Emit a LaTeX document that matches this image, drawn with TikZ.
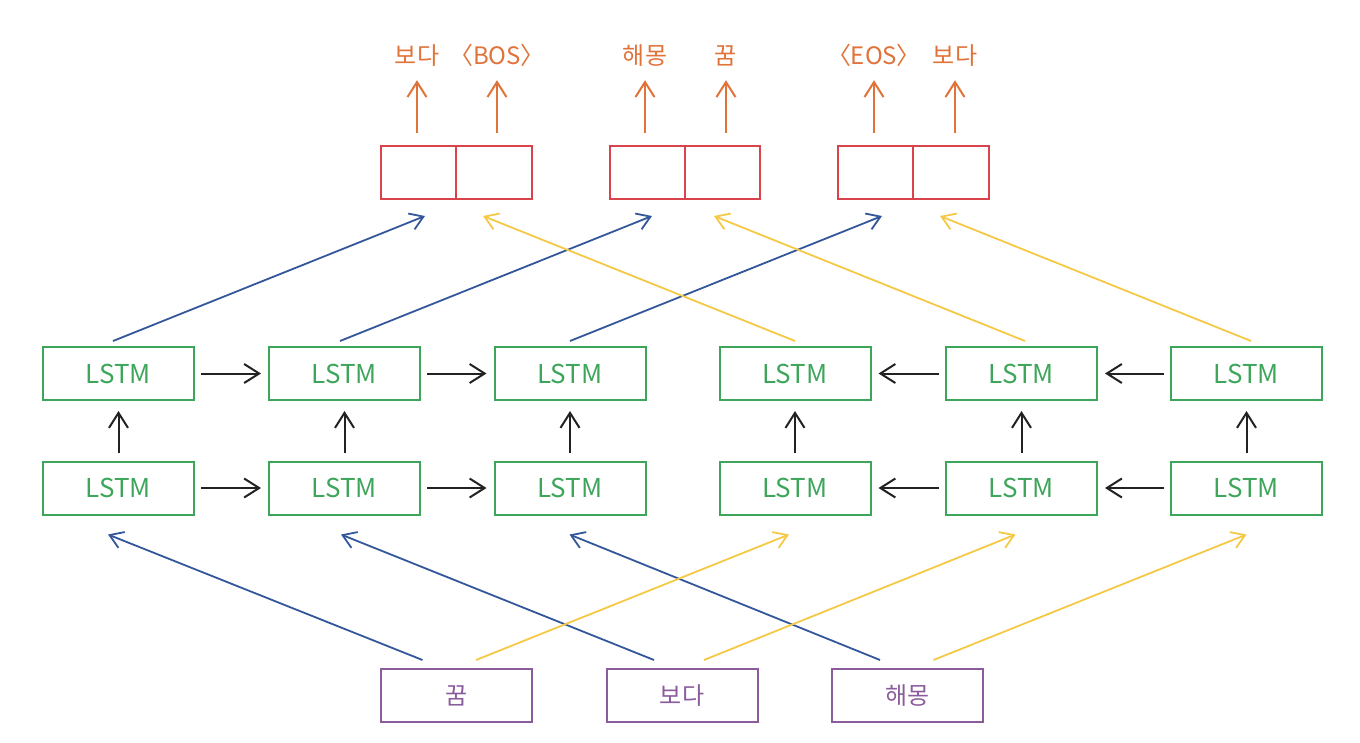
\documentclass[tikz,border=0pt]{standalone}
\usepackage{fontspec}
\setmainfont{Noto Sans CJK KR}
\newfontfamily\krp[RawFeature=+palt]{Noto Sans CJK KR}
\usetikzlibrary{arrows.meta,calc}
\definecolor{lgreen}{HTML}{3DA65A}
\definecolor{lred}{HTML}{D9434B}
\definecolor{lorange}{HTML}{E0733A}
\definecolor{lblue}{HTML}{33579A}
\definecolor{lyellow}{HTML}{F5C945}
\definecolor{lpurple}{HTML}{8A5C9C}
\definecolor{lblack}{HTML}{222222}
\begin{document}
\begin{tikzpicture}[x=1pt,y=-1pt,
  lstm/.style={draw=lgreen, line width=2pt, minimum width=151pt, minimum height=53pt, inner sep=0pt, text=lgreen, font=\fontsize{26}{30}\selectfont},
  cell/.style={draw=lred, line width=2pt, minimum width=75.5pt, minimum height=53pt, inner sep=0pt},
  word/.style={draw=lpurple, line width=2pt, minimum width=151pt, minimum height=53pt, inner sep=0pt, text=lpurple, font=\fontsize{24}{28}\selectfont},
  outlbl/.style={text=lorange, anchor=base, inner sep=0pt, text depth=0pt, font=\krp\fontsize{24}{28}\selectfont},
  blk/.style={draw=lblack, line width=2pt, -{Straight Barb[length=15pt,width=19pt]}},
  oarr/.style={draw=lorange, line width=2pt, -{Straight Barb[length=15pt,width=19pt]}},
  barr/.style={draw=lblue, line width=1.8pt, -{Straight Barb[length=13pt,width=17pt]}},
  yarr/.style={draw=lyellow, line width=1.8pt, -{Straight Barb[length=13pt,width=17pt]}}
]
\useasboundingbox (0,0) rectangle (1360,742);

% LSTM nodes
\node[lstm] (t1) at (118.5,373.5) {LSTM};
\node[lstm] (t2) at (344.5,373.5) {LSTM};
\node[lstm] (t3) at (570,373.5) {LSTM};
\node[lstm] (t4) at (795,373.5) {LSTM};
\node[lstm] (t5) at (1021.5,373.5) {LSTM};
\node[lstm] (t6) at (1246.5,373.5) {LSTM};
\node[lstm] (b1) at (118.5,488) {LSTM};
\node[lstm] (b2) at (344.5,488) {LSTM};
\node[lstm] (b3) at (570,488) {LSTM};
\node[lstm] (b4) at (795,488) {LSTM};
\node[lstm] (b5) at (1021.5,488) {LSTM};
\node[lstm] (b6) at (1246.5,488) {LSTM};

% output cells
\node[cell] (oA1) at (418.5,172.5) {};
\node[cell] (oA2) at (494,172.5) {};
\node[cell] (oB1) at (647.5,172.5) {};
\node[cell] (oB2) at (722.5,172.5) {};
\node[cell] (oC1) at (875.5,172.5) {};
\node[cell] (oC2) at (951,172.5) {};

% input words
\node[word] (p1) at (456.5,695.5) {꿈};
\node[word] (p2) at (682,695.5) {보다};
\node[word] (p3) at (907.5,695.5) {해몽};

% output labels
\node[outlbl] (lA1) at (417,64) {보다};
\node[outlbl] (lA2) at (497,64) {〈BOS〉};
\node[outlbl] (lB1) at (645,64) {해몽};
\node[outlbl] (lB2) at (726,64) {꿈};
\node[outlbl] (lC1) at (874,64) {〈EOS〉};
\node[outlbl] (lC2) at (955,64) {보다};

% orange arrows
\foreach \c/\l in {oA1/lA1,oA2/lA2,oB1/lB1,oB2/lB2,oC1/lC1,oC2/lC2}
  \draw[oarr, shorten <=12pt, shorten >=16pt] (\l.south |- \c.north) -- (\l.south);

% black horizontal arrows
\foreach \a/\b in {t1/t2,t2/t3,b1/b2,b2/b3}
  \draw[blk, shorten <=6pt, shorten >=7pt] (\a.east) -- (\b.west);
\foreach \a/\b in {t5/t4,t6/t5,b5/b4,b6/b5}
  \draw[blk, shorten <=6pt, shorten >=7pt] (\a.west) -- (\b.east);
% black vertical arrows
\foreach \i in {1,...,6}
  \draw[blk, shorten <=8pt, shorten >=10pt] (b\i.north) -- (t\i.south);

% top diagonals
\draw[barr] ($(t1.north)+(-5.5,-5)$) -- ($(oA1.south)+(6.5,16)$);
\draw[barr] ($(t2.north)+(-4.5,-5)$) -- ($(oB1.south)+(4.5,16)$);
\draw[barr] ($(t3.north)+(0,-5)$) -- ($(oC1.south)+(6.5,16)$);
\draw[yarr] ($(t4.north)+(0,-5)$) -- ($(oA2.south)+(-11,16)$);
\draw[yarr] ($(t5.north)+(3.5,-5)$) -- ($(oB2.south)+(-8.5,16)$);
\draw[yarr] ($(t6.north)+(4.5,-5)$) -- ($(oC2.south)+(-11,16)$);

% bottom diagonals
\draw[barr] ($(p1.north)+(-34,-8)$) -- ($(b1.south)+(-10.5,19)$);
\draw[barr] ($(p2.north)+(-28,-8)$) -- ($(b2.south)+(-3.5,19)$);
\draw[barr] ($(p3.north)+(-27.5,-8)$) -- ($(b3.south)+(-0.5,19)$);
\draw[yarr] ($(p1.north)+(19.5,-8)$) -- ($(b4.south)+(-6,19)$);
\draw[yarr] ($(p2.north)+(22,-8)$) -- ($(b5.south)+(-6,19)$);
\draw[yarr] ($(p3.north)+(26,-8)$) -- ($(b6.south)+(0,19)$);
\end{tikzpicture}
\end{document}
